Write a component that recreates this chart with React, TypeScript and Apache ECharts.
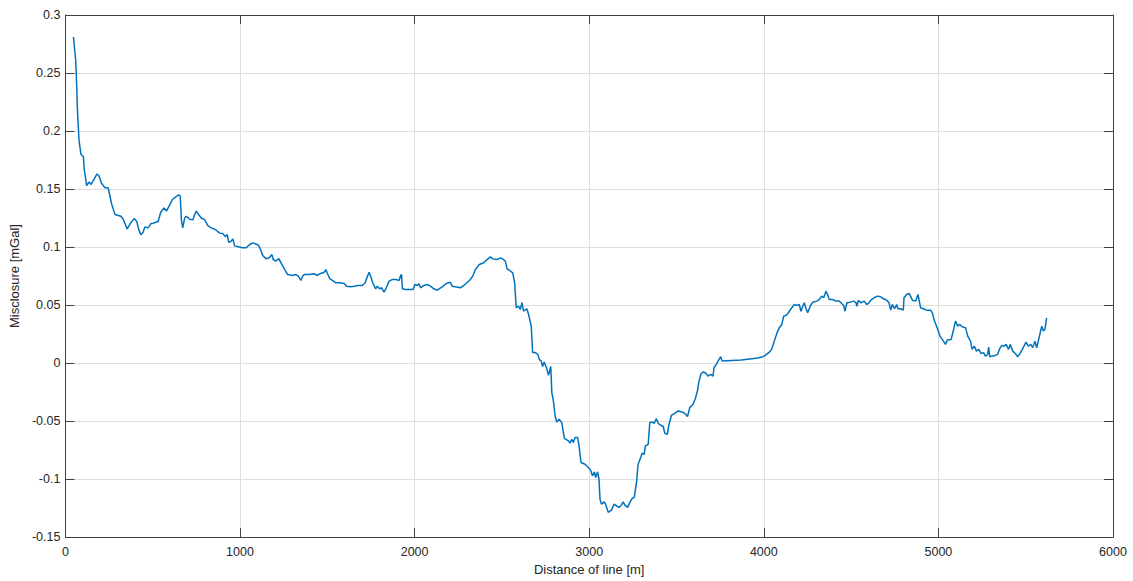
import React, { useEffect, useRef } from "react";
import * as echarts from "echarts";

const distance: number[] = [
  46, 59, 65, 69, 78, 89, 103, 108, 122, 135, 147, 166, 181, 192, 207, 227, 245, 255, 265, 284,
  318, 331, 354, 375, 394, 409, 420, 432, 445, 455, 474, 489, 502, 531, 546, 565, 579, 598, 613, 630,
  649, 658, 664, 672, 683, 693, 712, 731, 740, 750, 763, 778, 797, 816, 835, 851, 864, 883, 902, 915,
  927, 935, 949, 959, 969, 997, 1016, 1035, 1054, 1073, 1102, 1115, 1130, 1149, 1168, 1183, 1191, 1206, 1222, 1245,
  1273, 1302, 1320, 1334, 1349, 1359, 1368, 1397, 1425, 1444, 1458, 1482, 1492, 1501, 1515, 1530, 1549, 1568, 1597, 1610,
  1634, 1654, 1673, 1701, 1717, 1730, 1740, 1749, 1762, 1777, 1787, 1800, 1811, 1825, 1838, 1854, 1873, 1895, 1911, 1920,
  1925, 1930, 1948, 1977, 1991, 2002, 2015, 2025, 2034, 2053, 2072, 2091, 2110, 2129, 2158, 2181, 2205, 2215, 2234, 2262,
  2282, 2295, 2319, 2333, 2348, 2371, 2396, 2415, 2434, 2447, 2472, 2491, 2505, 2520, 2530, 2543, 2562, 2573, 2582, 2596,
  2605, 2615, 2624, 2643, 2653, 2668, 2676, 2691, 2706, 2714, 2725, 2733, 2742, 2757, 2767, 2780, 2786, 2795, 2805, 2814,
  2828, 2843, 2858, 2881, 2890, 2900, 2909, 2919, 2934, 2942, 2953, 2976, 2995, 3010, 3018, 3030, 3037, 3048, 3056, 3062,
  3071, 3086, 3094, 3109, 3128, 3143, 3157, 3170, 3181, 3195, 3204, 3220, 3233, 3246, 3258, 3271, 3280, 3295, 3303, 3315,
  3322, 3338, 3347, 3361, 3372, 3385, 3395, 3410, 3424, 3433, 3448, 3456, 3471, 3490, 3509, 3532, 3547, 3563, 3576, 3595,
  3608, 3620, 3627, 3639, 3652, 3665, 3681, 3696, 3709, 3715, 3728, 3741, 3753, 3761, 3871, 3966, 3995, 4008, 4032, 4045,
  4060, 4076, 4089, 4103, 4114, 4127, 4141, 4156, 4175, 4190, 4203, 4213, 4223, 4232, 4242, 4251, 4266, 4280, 4304, 4318,
  4331, 4343, 4356, 4365, 4375, 4394, 4413, 4432, 4442, 4457, 4465, 4476, 4495, 4514, 4528, 4533, 4542, 4556, 4575, 4590,
  4603, 4613, 4632, 4651, 4670, 4685, 4704, 4717, 4727, 4736, 4749, 4761, 4768, 4784, 4799, 4803, 4818, 4832, 4851, 4870,
  4883, 4898, 4913, 4932, 4955, 4965, 4978, 4993, 5009, 5022, 5041, 5051, 5073, 5085, 5098, 5111, 5123, 5136, 5155, 5168,
  5184, 5193, 5206, 5218, 5231, 5244, 5259, 5269, 5282, 5288, 5294, 5307, 5326, 5339, 5351, 5364, 5377, 5388, 5402, 5411,
  5426, 5440, 5453, 5468, 5483, 5502, 5515, 5529, 5540, 5553, 5563, 5572, 5592, 5601, 5611, 5620,
];

const misclosure: number[] = [
  0.281, 0.261, 0.238, 0.218, 0.192, 0.18, 0.178, 0.167, 0.153, 0.156, 0.154, 0.159, 0.163, 0.1615, 0.155, 0.151, 0.151, 0.144, 0.137, 0.128,
  0.1265, 0.124, 0.1156, 0.121, 0.1245, 0.122, 0.115, 0.1107, 0.1127, 0.1174, 0.1165, 0.12, 0.1205, 0.122, 0.13, 0.1337, 0.131, 0.1366, 0.141, 0.143,
  0.145, 0.144, 0.1236, 0.1165, 0.125, 0.1265, 0.124, 0.1236, 0.128, 0.131, 0.128, 0.125, 0.1236, 0.1185, 0.1165, 0.1156, 0.1145, 0.112, 0.1116, 0.109,
  0.1107, 0.104, 0.105, 0.107, 0.101, 0.1, 0.0993, 0.0993, 0.102, 0.1036, 0.102, 0.099, 0.0927, 0.09, 0.0907, 0.0935, 0.089, 0.088, 0.09, 0.0835,
  0.0763, 0.0755, 0.0763, 0.0749, 0.0712, 0.0749, 0.0763, 0.0763, 0.077, 0.0755, 0.077, 0.0783, 0.0806, 0.077, 0.0726, 0.0712, 0.0692, 0.0692, 0.0686, 0.0663,
  0.0657, 0.0663, 0.0669, 0.0669, 0.0692, 0.0749, 0.0783, 0.0743, 0.0686, 0.064, 0.0663, 0.064, 0.0649, 0.0611, 0.0649, 0.0706, 0.072, 0.072, 0.0712, 0.0755,
  0.0763, 0.064, 0.0634, 0.0634, 0.0634, 0.0677, 0.0669, 0.0683, 0.0649, 0.0669, 0.0677, 0.0663, 0.064, 0.0628, 0.0657, 0.0686, 0.0697, 0.0663, 0.0657, 0.0649,
  0.0669, 0.0686, 0.072, 0.0749, 0.0806, 0.085, 0.0864, 0.0892, 0.0915, 0.0898, 0.0892, 0.0907, 0.0898, 0.0878, 0.0812, 0.08, 0.0778, 0.0692, 0.0477, 0.049,
  0.0462, 0.052, 0.0447, 0.0468, 0.0419, 0.0318, 0.009, 0.009, 0.0075, 0.0032, 0.0017, -0.003, 0.0009, -0.0048, -0.0106, -0.003, -0.0255, -0.0327, -0.0456, -0.0508,
  -0.0484, -0.0513, -0.065, -0.0671, -0.069, -0.0657, -0.0685, -0.0642, -0.0642, -0.0714, -0.0857, -0.0872, -0.09, -0.0929, -0.0972, -0.0938, -0.0986, -0.0938, -0.1, -0.1173,
  -0.1216, -0.1196, -0.1216, -0.1287, -0.1265, -0.1216, -0.123, -0.1244, -0.123, -0.1196, -0.1224, -0.1244, -0.1201, -0.1167, -0.1158, -0.1029, -0.0872, -0.0814, -0.0777, -0.0786,
  -0.0714, -0.07, -0.0513, -0.0508, -0.0519, -0.0479, -0.0519, -0.0536, -0.0547, -0.0605, -0.0613, -0.0536, -0.045, -0.0433, -0.0413, -0.0422, -0.0433, -0.0461, -0.0384, -0.0355,
  -0.0306, -0.0241, -0.0169, -0.0097, -0.0077, -0.0083, -0.0112, -0.0097, -0.0112, -0.004, -0.0011, 0.0026, 0.0055, 0.0017, 0.0026, 0.0043, 0.0055, 0.0066, 0.0095, 0.0118,
  0.0189, 0.0262, 0.0305, 0.0333, 0.0405, 0.041, 0.0434, 0.0468, 0.0505, 0.0497, 0.0505, 0.0447, 0.049, 0.052, 0.0468, 0.0434, 0.049, 0.0525, 0.0534, 0.0548,
  0.0577, 0.0563, 0.062, 0.0591, 0.0548, 0.0548, 0.0534, 0.0534, 0.052, 0.0497, 0.0447, 0.052, 0.0525, 0.0534, 0.052, 0.049, 0.0542, 0.052, 0.0534, 0.0505,
  0.052, 0.0542, 0.0563, 0.0577, 0.0571, 0.0554, 0.0542, 0.052, 0.0456, 0.0505, 0.0468, 0.0505, 0.0468, 0.0468, 0.0456, 0.0563, 0.0591, 0.06, 0.0542, 0.0534,
  0.0591, 0.0477, 0.0468, 0.0456, 0.0456, 0.0434, 0.0361, 0.0305, 0.0232, 0.0204, 0.0161, 0.0198, 0.0204, 0.0276, 0.0361, 0.0318, 0.0333, 0.0313, 0.0305, 0.0232,
  0.0189, 0.0118, 0.0146, 0.0103, 0.0118, 0.0083, 0.009, 0.006, 0.0075, 0.0138, 0.0055, 0.006, 0.0066, 0.0075, 0.0124, 0.0152, 0.0146, 0.0161, 0.0118, 0.0161,
  0.0103, 0.0083, 0.0055, 0.0083, 0.0124, 0.0181, 0.0146, 0.0161, 0.0132, 0.0189, 0.0132, 0.0189, 0.0318, 0.0276, 0.0296, 0.039,
];

const FONT = "'Liberation Sans', Arial, Helvetica, sans-serif";
const TEXT = "#262626";
const AXIS = "#404040";
const GRID = "#dedede";

export default function App() {
  const ref = useRef<HTMLDivElement>(null);
  useEffect(() => {
    if (!ref.current) return;
    const chart = echarts.init(ref.current, undefined, { renderer: "svg" });
    const data = distance.map((d, i) => [d, misclosure[i]]);
    const xCommon = {
      type: "value" as const,
      min: 0,
      max: 6000,
      interval: 1000,
      axisLine: { show: true, onZero: false, lineStyle: { color: AXIS, width: 1 } },
      axisTick: { show: true, inside: true, length: 9, lineStyle: { color: AXIS, width: 1 } },
    };
    const yCommon = {
      type: "value" as const,
      min: -0.15,
      max: 0.3,
      interval: 0.05,
      axisLine: { show: true, onZero: false, lineStyle: { color: AXIS, width: 1 } },
      axisTick: { show: true, inside: true, length: 9, lineStyle: { color: AXIS, width: 1 } },
    };
    chart.setOption({
      animation: false,
      backgroundColor: "#ffffff",
      grid: { left: 60, right: 20, top: 15, bottom: 43, containLabel: false },
      xAxis: [
        {
          ...xCommon,
          position: "bottom",
          name: "Distance of line [m]",
          nameLocation: "middle",
          nameGap: 24,
          nameTextStyle: { color: TEXT, fontFamily: FONT, fontSize: 13 },
          axisLabel: {
            color: TEXT,
            fontFamily: FONT,
            fontSize: 12.5,
            margin: 8,
            formatter: (v: number) => String(v),
          },
          splitLine: { show: true, lineStyle: { color: GRID, width: 1 } },
        },
        {
          ...xCommon,
          position: "top",
          axisLabel: { show: false },
          splitLine: { show: false },
        },
      ],
      yAxis: [
        {
          ...yCommon,
          position: "left",
          name: "Misclosure [mGal]",
          nameLocation: "middle",
          nameGap: 37,
          nameTextStyle: { color: TEXT, fontFamily: FONT, fontSize: 13 },
          axisLabel: {
            color: TEXT,
            fontFamily: FONT,
            fontSize: 12.5,
            margin: 5,
            formatter: (v: number) => String(parseFloat(v.toFixed(2))),
          },
          splitLine: { show: true, lineStyle: { color: GRID, width: 1 } },
        },
        {
          ...yCommon,
          position: "right",
          axisLabel: { show: false },
          splitLine: { show: false },
        },
      ],
      series: [
        {
          type: "line",
          data,
          xAxisIndex: 0,
          yAxisIndex: 0,
          showSymbol: false,
          symbol: "none",
          lineStyle: { color: "#0072BD", width: 1.5 },
        },
      ],
    });
    return () => chart.dispose();
  }, []);
  return (
    <div
      ref={ref}
      style={{ position: "absolute", left: 0, top: 0, width: 1133, height: 581, background: "#fff" }}
    />
  );
}
